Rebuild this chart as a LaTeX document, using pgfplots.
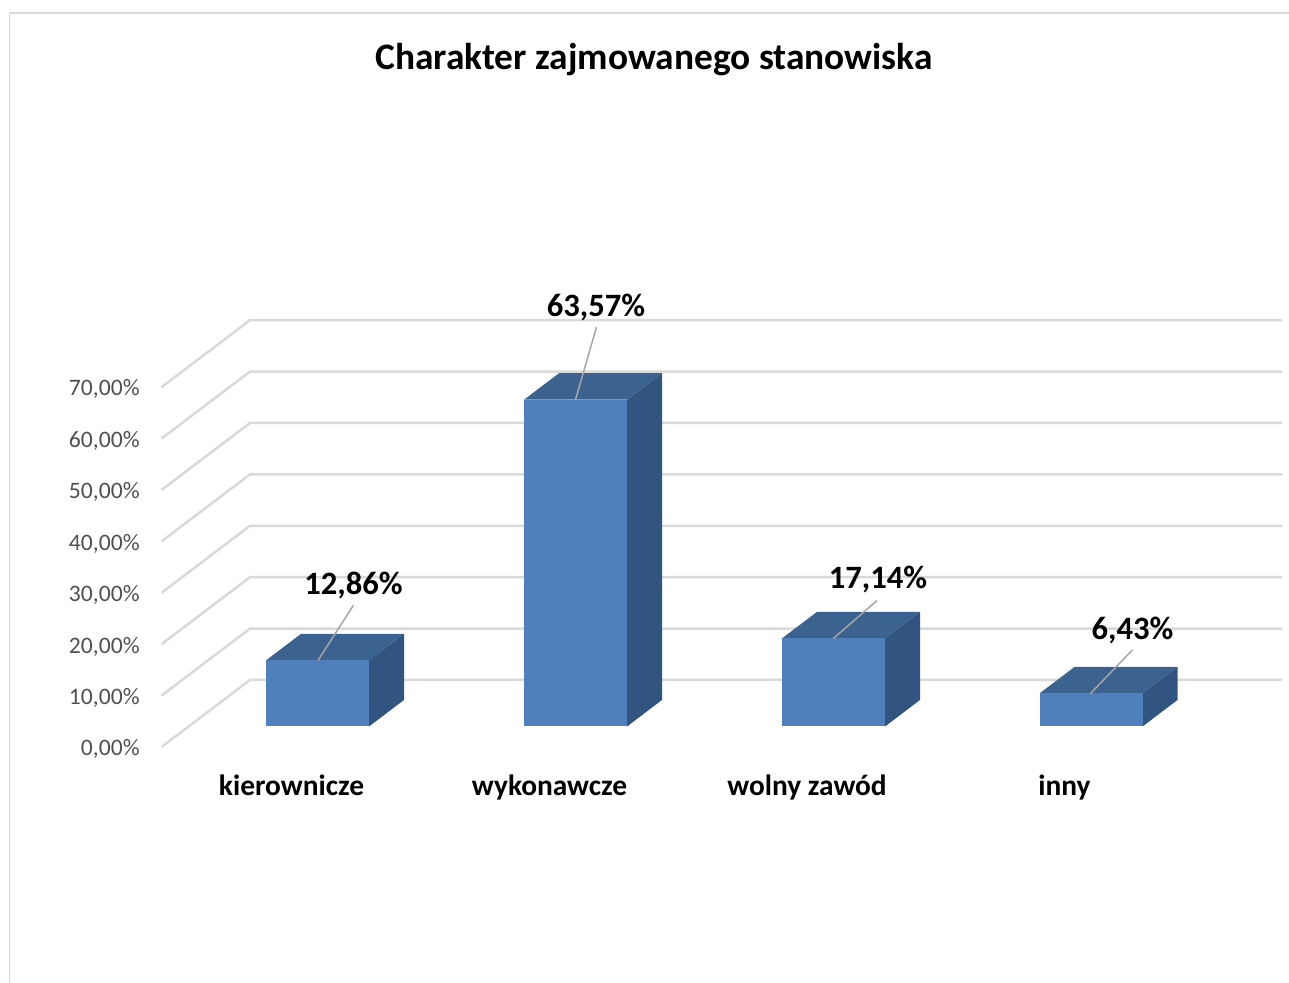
\documentclass[border=0pt]{standalone}
\usepackage{pgfplots}
\pgfplotsset{compat=1.18}
\usepackage{fontspec}
\setmainfont{Carlito}
\definecolor{gridc}{HTML}{D9D9D9}
\definecolor{frontc}{HTML}{4F7FBC}
\definecolor{topc}{HTML}{3C628F}
\definecolor{sidec}{HTML}{325480}
\definecolor{leadc}{HTML}{A6A6A6}
\definecolor{tickc}{HTML}{505050}
\newcommand{\pxy}[1]{{(726.5-#1)/5.14}}
\begin{document}
\begin{tikzpicture}
\path[use as bounding box] (0,0) rectangle (644.5pt,491.5pt);
\begin{axis}[
  at={(0,0)}, anchor=south west,
  scale only axis, width=644.5pt, height=491.5pt,
  xmin=0, xmax=1289, ymin=-49.9, ymax=141.34,
  axis lines=none, clip=true,
]
% frame
\addplot[gridc, line width=0.9pt] coordinates {(9.5,-60)(9.5,138.8)(1295,138.8)};
% gridlines: back wall and side wall, 0..70
\addplot[gridc, line width=1.25pt] coordinates {(161.5,-3.99)(250,9.05)(1282,9.05)};
\addplot[gridc, line width=1.25pt] coordinates {(161.5,6.01)(250,19.05)(1282,19.05)};
\addplot[gridc, line width=1.25pt] coordinates {(161.5,16.01)(250,29.05)(1282,29.05)};
\addplot[gridc, line width=1.25pt] coordinates {(161.5,26.01)(250,39.05)(1282,39.05)};
\addplot[gridc, line width=1.25pt] coordinates {(161.5,36.01)(250,49.05)(1282,49.05)};
\addplot[gridc, line width=1.25pt] coordinates {(161.5,46.01)(250,59.05)(1282,59.05)};
\addplot[gridc, line width=1.25pt] coordinates {(161.5,56.01)(250,69.05)(1282,69.05)};
\addplot[gridc, line width=1.25pt] coordinates {(161.5,66.01)(250,79.05)(1282,79.05)};
% bar 1: 12,86
\addplot[fill=topc, draw=none] coordinates {(266,12.86)(369,12.86)(404,18.02)(301,18.02)} -- cycle;
\addplot[fill=sidec, draw=none] coordinates {(369,0)(404,5.16)(404,18.02)(369,12.86)} -- cycle;
\addplot[fill=frontc, draw=none] coordinates {(266,0)(369,0)(369,12.86)(266,12.86)} -- cycle;
% bar 2: 63,57
\addplot[fill=topc, draw=none] coordinates {(524,63.57)(627,63.57)(662,68.73)(559,68.73)} -- cycle;
\addplot[fill=sidec, draw=none] coordinates {(627,0)(662,5.16)(662,68.73)(627,63.57)} -- cycle;
\addplot[fill=frontc, draw=none] coordinates {(524,0)(627,0)(627,63.57)(524,63.57)} -- cycle;
% bar 3: 17,14
\addplot[fill=topc, draw=none] coordinates {(782,17.14)(885,17.14)(920,22.30)(817,22.30)} -- cycle;
\addplot[fill=sidec, draw=none] coordinates {(885,0)(920,5.16)(920,22.30)(885,17.14)} -- cycle;
\addplot[fill=frontc, draw=none] coordinates {(782,0)(885,0)(885,17.14)(782,17.14)} -- cycle;
% bar 4: 6,43
\addplot[fill=topc, draw=none] coordinates {(1039.5,6.43)(1142.5,6.43)(1177.5,11.59)(1074.5,11.59)} -- cycle;
\addplot[fill=sidec, draw=none] coordinates {(1142.5,0)(1177.5,5.16)(1177.5,11.59)(1142.5,6.43)} -- cycle;
\addplot[fill=frontc, draw=none] coordinates {(1039.5,0)(1142.5,0)(1142.5,6.43)(1039.5,6.43)} -- cycle;
% leader lines
\addplot[leadc, line width=0.75pt] coordinates {(318,12.86)(353.5,23.6)};
\addplot[leadc, line width=0.75pt] coordinates {(575.5,63.57)(596.5,77.7)};
\addplot[leadc, line width=0.75pt] coordinates {(833.5,17.14)(877,24.5)};
\addplot[leadc, line width=0.75pt] coordinates {(1090.5,6.43)(1132.5,14.9)};
% title
\node[anchor=base, font=\bfseries\fontsize{18.7}{22}\selectfont] at (axis cs:654,\pxy{69.5}) {Charakter zajmowanego stanowiska};
% value axis labels
\node[anchor=base east, inner sep=0pt, text=tickc, font=\fontsize{11.8}{14}\selectfont] at (axis cs:140,\pxy{396}) {70,00\%};
\node[anchor=base east, inner sep=0pt, text=tickc, font=\fontsize{11.8}{14}\selectfont] at (axis cs:140,\pxy{447.4}) {60,00\%};
\node[anchor=base east, inner sep=0pt, text=tickc, font=\fontsize{11.8}{14}\selectfont] at (axis cs:140,\pxy{498.9}) {50,00\%};
\node[anchor=base east, inner sep=0pt, text=tickc, font=\fontsize{11.8}{14}\selectfont] at (axis cs:140,\pxy{550.3}) {40,00\%};
\node[anchor=base east, inner sep=0pt, text=tickc, font=\fontsize{11.8}{14}\selectfont] at (axis cs:140,\pxy{601.7}) {30,00\%};
\node[anchor=base east, inner sep=0pt, text=tickc, font=\fontsize{11.8}{14}\selectfont] at (axis cs:140,\pxy{653.1}) {20,00\%};
\node[anchor=base east, inner sep=0pt, text=tickc, font=\fontsize{11.8}{14}\selectfont] at (axis cs:140,\pxy{704.6}) {10,00\%};
\node[anchor=base east, inner sep=0pt, text=tickc, font=\fontsize{11.8}{14}\selectfont] at (axis cs:140,\pxy{756}) {0,00\%};
% value labels
\node[anchor=base, font=\bfseries\fontsize{16.3}{19}\selectfont] at (axis cs:353.5,\pxy{595}) {12,86\%};
\node[anchor=base, font=\bfseries\fontsize{16.3}{19}\selectfont] at (axis cs:596,\pxy{317}) {63,57\%};
\node[anchor=base, font=\bfseries\fontsize{16.3}{19}\selectfont] at (axis cs:878,\pxy{589}) {17,14\%};
\node[anchor=base, font=\bfseries\fontsize{16.3}{19}\selectfont] at (axis cs:1132.5,\pxy{640}) {6,43\%};
% category labels
\node[anchor=base, font=\bfseries\fontsize{14.7}{17}\selectfont] at (axis cs:291.5,\pxy{795}) {kierownicze};
\node[anchor=base, font=\bfseries\fontsize{14.7}{17}\selectfont] at (axis cs:549.5,\pxy{795}) {wykonawcze};
\node[anchor=base, font=\bfseries\fontsize{14.7}{17}\selectfont] at (axis cs:807,\pxy{795}) {wolny zawód};
\node[anchor=base, font=\bfseries\fontsize{14.7}{17}\selectfont] at (axis cs:1064.5,\pxy{795}) {inny};
\end{axis}
\end{tikzpicture}
\end{document}
